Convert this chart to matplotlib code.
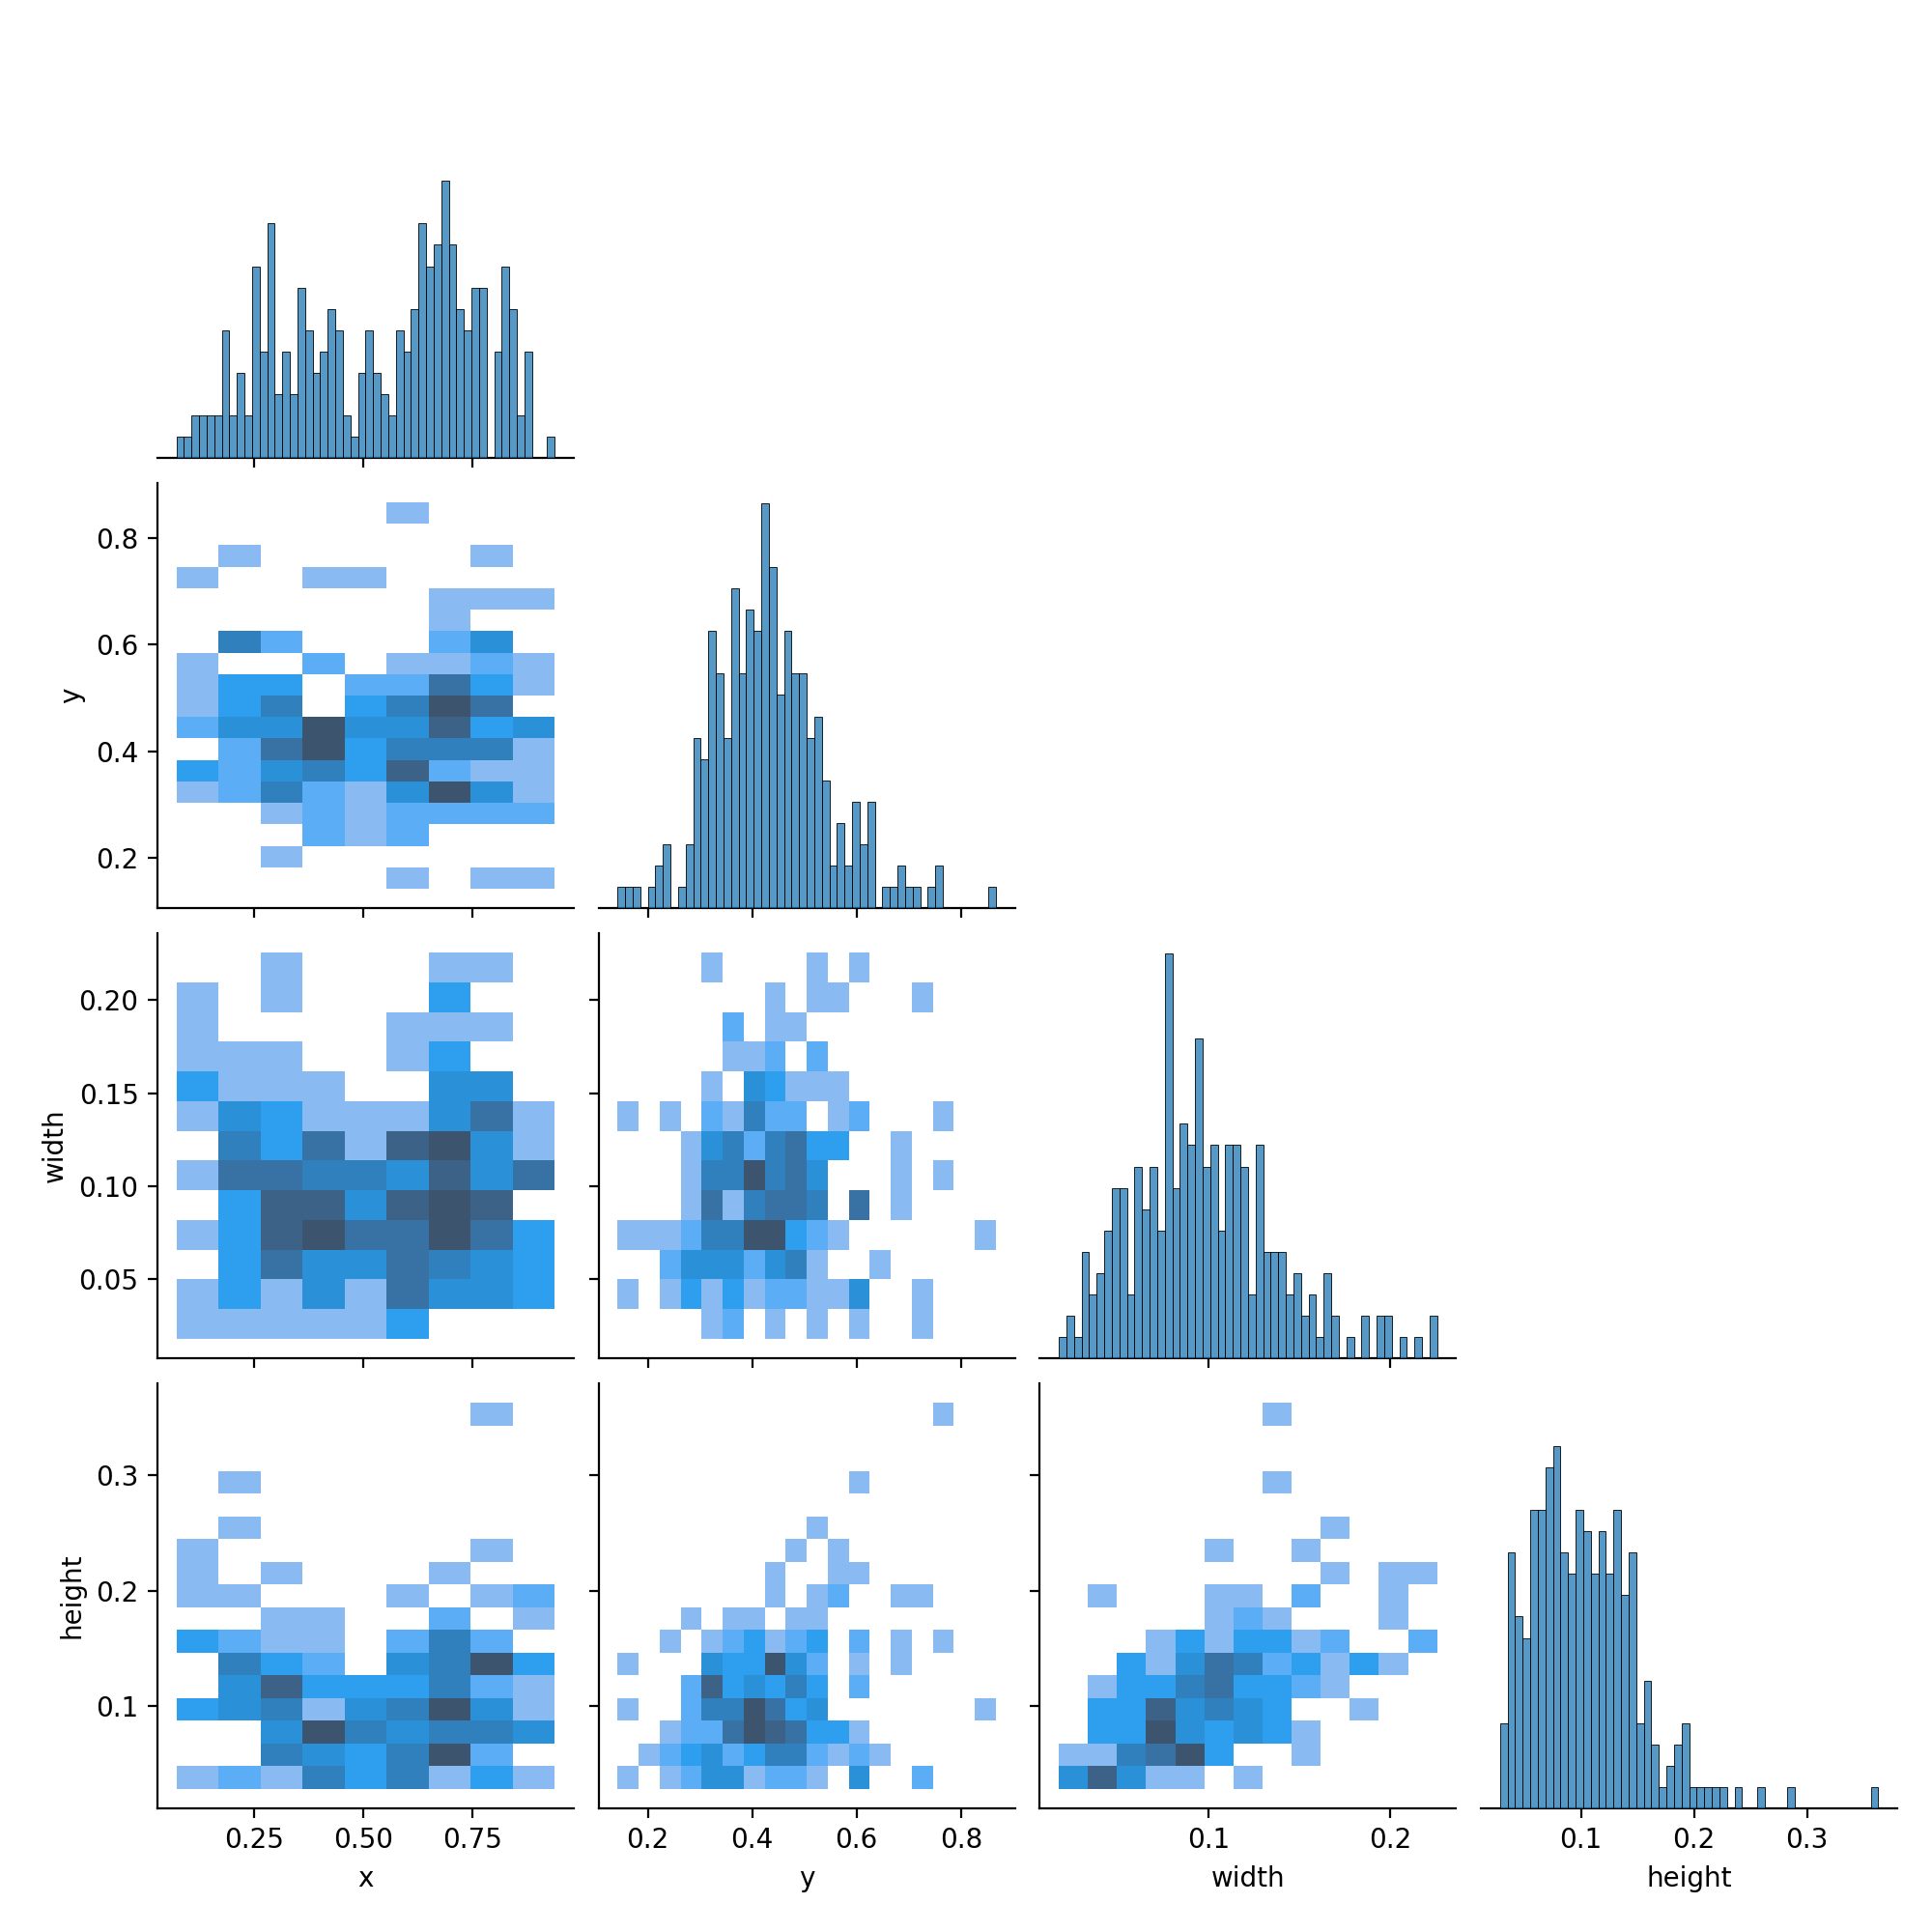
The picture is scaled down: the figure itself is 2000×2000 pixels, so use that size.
import numpy as np
import matplotlib
matplotlib.use("Agg")
import matplotlib.pyplot as plt
from matplotlib.colors import to_rgba, ListedColormap
from seaborn.external import husl

variables = ["x", "y", "width", "height"]

# data range of each variable (bin edges span min..max)
x_range = (0.0713, 0.9398)
y_range = (0.142, 0.867)
width_range = (0.0178, 0.2256)
height_range = (0.0283, 0.3629)

# diagonal histograms, 50 bins each
x_counts = [1, 1, 2, 2, 2, 2, 6, 2, 4, 2, 9, 5, 11, 3, 5, 3, 8, 6, 4, 5,
            7, 6, 2, 1, 4, 6, 4, 3, 2, 6, 5, 7, 11, 9, 10, 13, 10, 7, 6, 8,
            8, 0, 5, 9, 7, 2, 5, 0, 0, 1]
y_counts = [1, 1, 1, 0, 1, 2, 3, 0, 1, 3, 8, 7, 13, 11, 8, 15, 11, 14, 13, 19,
            16, 10, 13, 11, 11, 8, 9, 6, 2, 4, 2, 5, 3, 5, 0, 1, 1, 2, 1, 1,
            0, 1, 2, 0, 0, 0, 0, 0, 0, 1]
width_counts = [1, 2, 1, 5, 3, 4, 6, 8, 8, 3, 9, 7, 9, 6, 19, 8, 11, 10, 15, 9,
                10, 6, 10, 10, 9, 3, 10, 5, 5, 5, 3, 4, 2, 3, 1, 4, 2, 0, 1, 0,
                2, 0, 2, 2, 0, 1, 0, 1, 0, 2]
height_counts = [4, 12, 9, 8, 14, 14, 16, 17, 12, 11, 14, 13, 11, 13, 11, 14, 10, 12, 4, 6,
                 3, 1, 2, 3, 4, 1, 1, 1, 1, 1, 0, 1, 0, 0, 1, 0, 0, 0, 1, 0,
                 0, 0, 0, 0, 0, 0, 0, 0, 0, 1]

# bins of the 2D histograms per variable
n_bins_2d = {"x": 9, "y": 18, "width": 13, "height": 17}

# 2D histogram counts, rows listed from top (high value) to bottom
xy_counts = [
    [0, 0, 0, 0, 0, 1, 0, 0, 0],
    [0, 0, 0, 0, 0, 0, 0, 0, 0],
    [0, 1, 0, 0, 0, 0, 0, 1, 0],
    [1, 0, 0, 1, 1, 0, 0, 0, 0],
    [0, 0, 0, 0, 0, 0, 1, 1, 1],
    [0, 0, 0, 0, 0, 0, 1, 0, 0],
    [0, 5, 2, 0, 0, 0, 2, 4, 0],
    [1, 0, 0, 2, 0, 1, 1, 2, 1],
    [1, 3, 3, 0, 2, 2, 6, 3, 1],
    [1, 3, 5, 0, 3, 5, 8, 6, 0],
    [2, 4, 4, 8, 4, 4, 7, 3, 4],
    [0, 2, 6, 8, 3, 5, 5, 5, 1],
    [3, 2, 4, 5, 3, 7, 2, 1, 1],
    [1, 2, 5, 2, 1, 4, 8, 4, 1],
    [0, 0, 1, 2, 1, 2, 2, 2, 2],
    [0, 0, 0, 2, 1, 2, 0, 0, 0],
    [0, 0, 1, 0, 0, 0, 0, 0, 0],
    [0, 0, 0, 0, 0, 1, 0, 1, 1],
]
xw_counts = [
    [0, 0, 1, 0, 0, 0, 1, 1, 0],
    [1, 0, 1, 0, 0, 0, 3, 0, 0],
    [1, 0, 0, 0, 0, 1, 1, 1, 0],
    [1, 1, 1, 0, 0, 1, 3, 0, 0],
    [3, 1, 1, 1, 0, 0, 4, 4, 0],
    [1, 4, 3, 1, 1, 1, 4, 6, 1],
    [0, 5, 3, 6, 1, 7, 8, 4, 1],
    [1, 6, 6, 5, 5, 4, 7, 4, 6],
    [0, 3, 7, 7, 4, 7, 8, 7, 0],
    [1, 3, 7, 8, 6, 6, 8, 6, 3],
    [0, 3, 6, 4, 4, 6, 5, 4, 3],
    [1, 3, 1, 4, 1, 6, 4, 4, 3],
    [1, 1, 1, 1, 1, 3, 0, 0, 0],
]
yw_counts = [
    [0, 0, 0, 0, 1, 0, 0, 0, 0, 1, 0, 1, 0, 0, 0, 0, 0, 0],
    [0, 0, 0, 0, 0, 0, 0, 1, 0, 1, 1, 0, 0, 0, 1, 0, 0, 0],
    [0, 0, 0, 0, 0, 2, 0, 1, 1, 0, 0, 0, 0, 0, 0, 0, 0, 0],
    [0, 0, 0, 0, 0, 1, 1, 2, 0, 2, 0, 0, 0, 0, 0, 0, 0, 0],
    [0, 0, 0, 0, 1, 0, 4, 3, 1, 1, 1, 0, 0, 0, 0, 0, 0, 0],
    [1, 0, 1, 0, 2, 1, 5, 2, 2, 0, 1, 2, 0, 0, 0, 1, 0, 0],
    [0, 0, 0, 1, 4, 5, 2, 5, 6, 3, 3, 0, 0, 1, 0, 0, 0, 0],
    [0, 0, 0, 1, 5, 5, 8, 5, 6, 4, 0, 0, 0, 1, 0, 1, 0, 0],
    [0, 0, 0, 1, 6, 1, 5, 6, 6, 5, 0, 6, 0, 1, 0, 0, 0, 0],
    [1, 1, 1, 2, 5, 5, 8, 8, 3, 2, 1, 0, 0, 0, 0, 0, 0, 1],
    [0, 0, 2, 4, 4, 4, 2, 4, 5, 1, 0, 0, 1, 0, 0, 0, 0, 0],
    [1, 0, 1, 3, 1, 3, 1, 2, 2, 1, 1, 4, 0, 0, 1, 0, 0, 0],
    [0, 0, 0, 0, 1, 2, 0, 1, 0, 1, 0, 1, 0, 0, 1, 0, 0, 0],
]
xh_counts = [
    [0, 0, 0, 0, 0, 0, 0, 1, 0],
    [0, 0, 0, 0, 0, 0, 0, 0, 0],
    [0, 0, 0, 0, 0, 0, 0, 0, 0],
    [0, 1, 0, 0, 0, 0, 0, 0, 0],
    [0, 0, 0, 0, 0, 0, 0, 0, 0],
    [0, 1, 0, 0, 0, 0, 0, 0, 0],
    [1, 0, 0, 0, 0, 0, 0, 1, 0],
    [1, 0, 1, 0, 0, 0, 1, 0, 0],
    [1, 1, 0, 0, 0, 1, 0, 1, 2],
    [0, 0, 1, 1, 0, 0, 2, 0, 1],
    [3, 2, 1, 1, 0, 2, 5, 2, 0],
    [0, 5, 3, 2, 0, 4, 5, 8, 3],
    [0, 4, 7, 3, 3, 3, 5, 2, 1],
    [3, 4, 5, 1, 4, 5, 8, 4, 1],
    [0, 0, 4, 8, 5, 4, 5, 5, 4],
    [0, 0, 5, 4, 3, 5, 8, 2, 0],
    [1, 2, 1, 5, 3, 5, 1, 3, 1],
]
yh_counts = [
    [0, 0, 0, 0, 0, 0, 0, 0, 0, 0, 0, 0, 0, 0, 0, 1, 0, 0],
    [0, 0, 0, 0, 0, 0, 0, 0, 0, 0, 0, 0, 0, 0, 0, 0, 0, 0],
    [0, 0, 0, 0, 0, 0, 0, 0, 0, 0, 0, 0, 0, 0, 0, 0, 0, 0],
    [0, 0, 0, 0, 0, 0, 0, 0, 0, 0, 0, 1, 0, 0, 0, 0, 0, 0],
    [0, 0, 0, 0, 0, 0, 0, 0, 0, 0, 0, 0, 0, 0, 0, 0, 0, 0],
    [0, 0, 0, 0, 0, 0, 0, 0, 0, 1, 0, 0, 0, 0, 0, 0, 0, 0],
    [0, 0, 0, 0, 0, 0, 0, 0, 1, 0, 1, 0, 0, 0, 0, 0, 0, 0],
    [0, 0, 0, 0, 0, 0, 0, 1, 0, 0, 1, 1, 0, 0, 0, 0, 0, 0],
    [0, 0, 0, 0, 0, 0, 0, 1, 0, 1, 2, 0, 0, 1, 1, 0, 0, 0],
    [0, 0, 0, 1, 0, 1, 1, 0, 1, 1, 0, 0, 0, 0, 0, 0, 0, 0],
    [0, 0, 1, 0, 1, 2, 3, 1, 2, 3, 0, 2, 0, 1, 0, 1, 0, 0],
    [1, 0, 0, 0, 4, 3, 3, 8, 4, 2, 0, 1, 0, 1, 0, 0, 0, 0],
    [0, 0, 0, 2, 7, 3, 4, 3, 5, 3, 0, 2, 0, 0, 0, 0, 0, 0],
    [1, 0, 0, 2, 5, 5, 8, 6, 3, 4, 0, 0, 0, 0, 0, 0, 0, 1],
    [0, 0, 1, 2, 2, 6, 8, 7, 6, 3, 3, 1, 0, 0, 0, 0, 0, 0],
    [0, 1, 2, 3, 4, 2, 3, 5, 5, 2, 1, 2, 1, 0, 0, 0, 0, 0],
    [1, 0, 1, 2, 4, 4, 1, 2, 2, 1, 0, 4, 0, 0, 2, 0, 0, 0],
]
wh_counts = [
    [0, 0, 0, 0, 0, 0, 0, 1, 0, 0, 0, 0, 0],
    [0, 0, 0, 0, 0, 0, 0, 0, 0, 0, 0, 0, 0],
    [0, 0, 0, 0, 0, 0, 0, 0, 0, 0, 0, 0, 0],
    [0, 0, 0, 0, 0, 0, 0, 1, 0, 0, 0, 0, 0],
    [0, 0, 0, 0, 0, 0, 0, 0, 0, 0, 0, 0, 0],
    [0, 0, 0, 0, 0, 0, 0, 0, 0, 1, 0, 0, 0],
    [0, 0, 0, 0, 0, 1, 0, 0, 1, 0, 0, 0, 0],
    [0, 0, 0, 0, 0, 0, 0, 0, 0, 1, 0, 1, 1],
    [0, 1, 0, 0, 0, 1, 1, 0, 2, 0, 0, 1, 0],
    [0, 0, 0, 0, 0, 1, 2, 1, 0, 0, 0, 1, 0],
    [0, 0, 0, 1, 3, 1, 3, 3, 1, 2, 0, 0, 2],
    [0, 0, 3, 1, 4, 6, 5, 2, 3, 1, 3, 1, 0],
    [0, 1, 3, 3, 5, 6, 3, 3, 2, 1, 0, 0, 0],
    [0, 3, 3, 7, 4, 5, 4, 3, 0, 0, 1, 0, 0],
    [0, 3, 3, 8, 4, 3, 4, 3, 1, 0, 0, 0, 0],
    [1, 1, 5, 6, 8, 3, 0, 0, 1, 0, 0, 0, 0],
    [4, 7, 4, 1, 1, 0, 1, 0, 0, 0, 0, 0, 0],
]

x_ticks = [0.25, 0.5, 0.75]
y_ticks = [0.2, 0.4, 0.6, 0.8]
width_xticks = [0.1, 0.2]
width_yticks = [0.05, 0.10, 0.15, 0.20]
height_ticks = [0.1, 0.2, 0.3]

ranges = {"x": x_range, "y": y_range, "width": width_range, "height": height_range}
diag_counts = {"x": x_counts, "y": y_counts, "width": width_counts, "height": height_counts}
pair_counts = {
    (1, 0): xy_counts, (2, 0): xw_counts, (2, 1): yw_counts,
    (3, 0): xh_counts, (3, 1): yh_counts, (3, 2): wh_counts,
}

base_color = "#1f77b4"


def cmap_from_color(color):
    # same ramp seaborn uses for bivariate histograms
    r, g, b, _ = to_rgba(color)
    h, s, _ = husl.rgb_to_husl(r, g, b)
    xx = np.linspace(-1, 1, int(1.15 * 256))[:256]
    ramp = np.zeros((256, 3))
    ramp[:, 0] = h
    ramp[:, 1] = s * np.cos(xx)
    ramp[:, 2] = np.linspace(35, 80, 256)
    colors = np.clip([husl.husl_to_rgb(*hsl) for hsl in ramp], 0, 1)
    return ListedColormap(colors[::-1])


cmap = cmap_from_color(base_color)

fig, axes = plt.subplots(4, 4, figsize=(10, 10), dpi=200, sharex="col", sharey="row")
fig.subplots_adjust(left=0.0815, right=0.982, bottom=0.064, top=0.983,
                    wspace=0.06, hspace=0.059)

for i in range(4):
    for j in range(4):
        if j > i:
            fig.delaxes(axes[i, j])
            continue
        ax = axes[i, j]
        ax.spines["top"].set_visible(False)
        ax.spines["right"].set_visible(False)

# off-diagonal 2D histograms (zero cells left empty, colour scale from 0)
for (i, j), counts in pair_counts.items():
    ax = axes[i, j]
    xv, yv = variables[j], variables[i]
    c = np.array(counts, dtype=float)[::-1]
    xe = np.linspace(ranges[xv][0], ranges[xv][1], n_bins_2d[xv] + 1)
    ye = np.linspace(ranges[yv][0], ranges[yv][1], n_bins_2d[yv] + 1)
    mesh = ax.pcolormesh(xe, ye, np.ma.masked_less_equal(c, 0), cmap=cmap,
                         vmin=0, vmax=c.max())
    mesh.sticky_edges.x[:] = []
    mesh.sticky_edges.y[:] = []

# diagonal histograms on twin axes sharing one y scale
twins = []
for k, var in enumerate(variables):
    ax = axes[k, k]
    ax.yaxis.set_visible(False)
    ax.spines["left"].set_visible(False)
    tw = ax.twinx()
    if twins:
        tw.sharey(twins[0])
    twins.append(tw)
    edges = np.linspace(ranges[var][0], ranges[var][1], len(diag_counts[var]) + 1)
    tw.bar(edges[:-1], diag_counts[var], width=np.diff(edges), align="edge",
           facecolor=to_rgba(base_color, 0.75), edgecolor="black", linewidth=0.3)
    tw.set_axis_off()

for tw in twins:
    tw.autoscale_view()

axes[3, 0].set_xticks(x_ticks)
axes[3, 1].set_xticks(y_ticks)
axes[3, 2].set_xticks(width_xticks)
axes[3, 3].set_xticks(height_ticks)
axes[1, 0].set_yticks(y_ticks)
axes[2, 0].set_yticks(width_yticks)
axes[3, 0].set_yticks(height_ticks)

for j, var in enumerate(variables):
    axes[3, j].set_xlabel(var)
for i in range(1, 4):
    axes[i, 0].set_ylabel(variables[i])

fig.savefig("out.png", dpi=200)
